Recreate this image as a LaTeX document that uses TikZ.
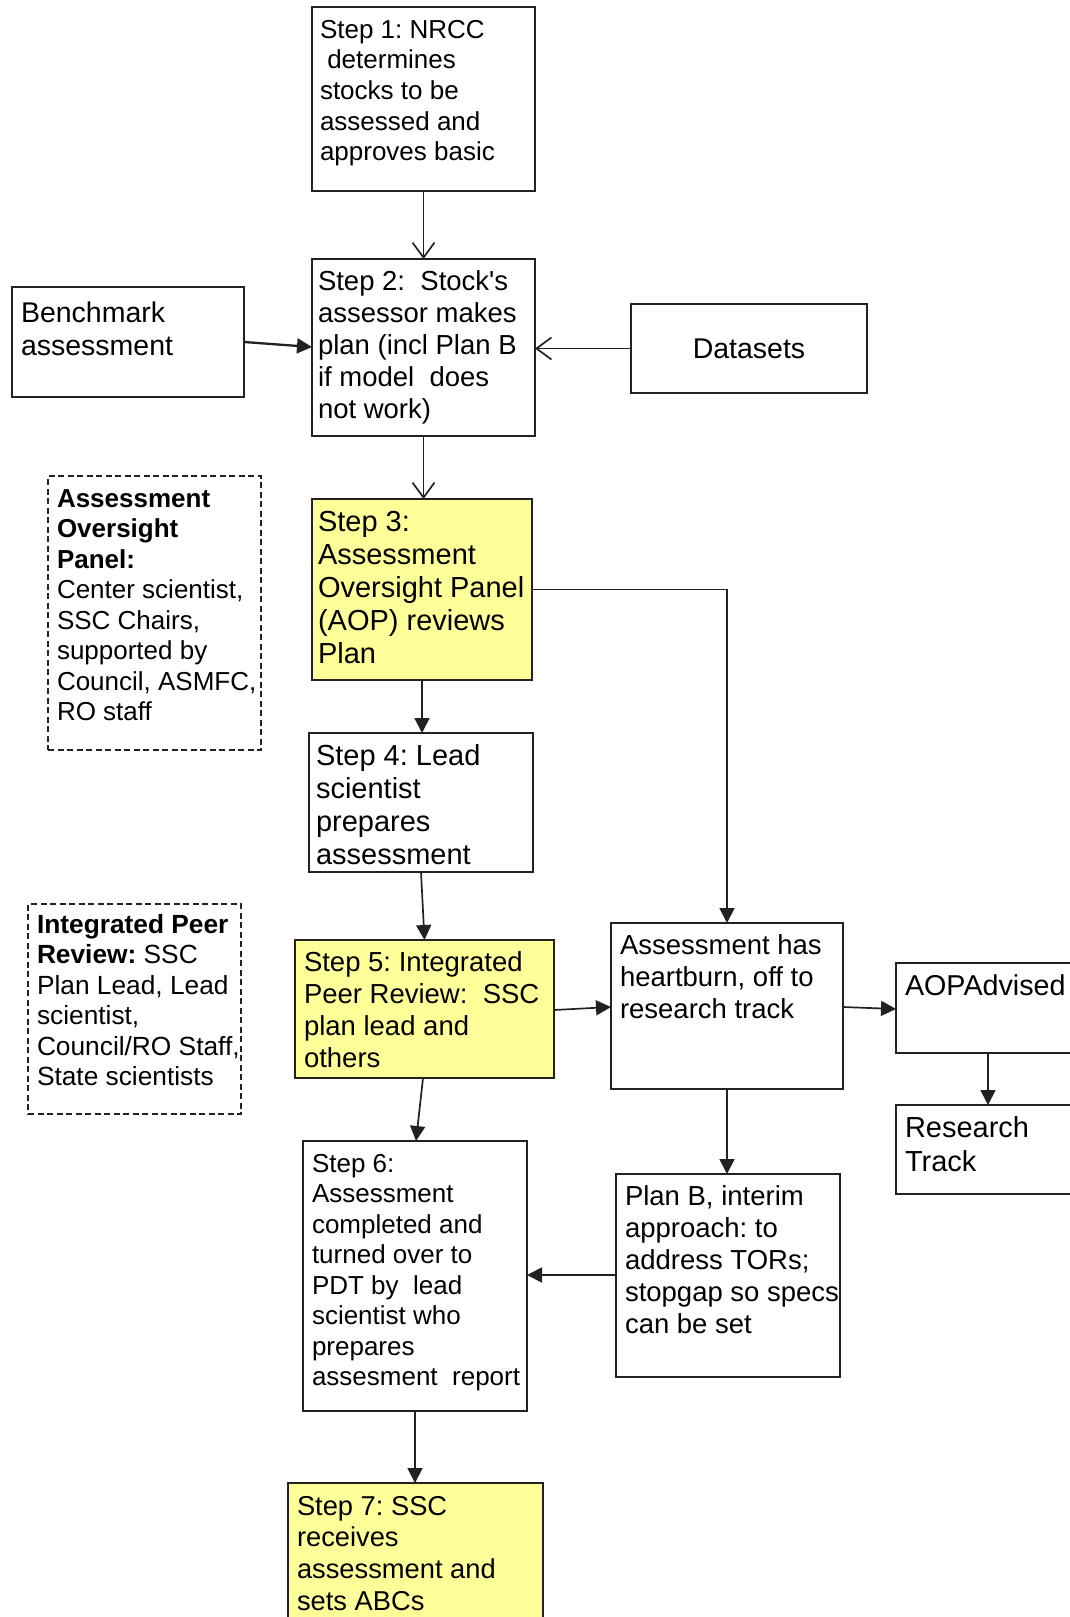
\documentclass[tikz,border=0pt]{standalone}
\usepackage{fontspec}
\setmainfont{Liberation Sans}
\usetikzlibrary{arrows.meta}
\definecolor{yel}{HTML}{FFFF99}
\definecolor{ink}{HTML}{222222}
\newcommand\bt[3]{\parbox[t]{420pt}{\frenchspacing\fontsize{#1}{#2}\selectfont\raggedright #3}}
\begin{document}
\begin{tikzpicture}[x=1pt,y=-1pt,
  box/.style={draw=ink, line width=1.8pt, rectangle, inner sep=0pt, outer sep=0pt, anchor=north west},
  ybox/.style={box, fill=yel},
  dbox/.style={box, line width=1.4pt, dash pattern=on 6pt off 3.5pt},
  txt/.style={inner sep=0pt, outer sep=0pt, anchor=base west, text=black},
  fa/.style={draw=ink, line width=1.7pt, -{Triangle[length=15pt,width=15pt]}},
  oa/.style={draw=ink, line width=1.7pt, -{Straight Barb[length=15pt,width=22pt]}}]
\clip (0,0) rectangle (1070,1617);
\useasboundingbox (0,0) rectangle (1070,1617);
\fill[white] (0,0) rectangle (1070,1617);

% boxes
\node[box, minimum width=223pt, minimum height=184pt] (s1) at (312,7) {};
\node[box, minimum width=223pt, minimum height=177pt] (s2) at (312,259) {};
\node[box, minimum width=232pt, minimum height=110pt] (bench) at (12,287) {};
\node[box, minimum width=236pt, minimum height=89pt] (data) at (631,304) {};
\node[ybox, minimum width=220pt, minimum height=181pt] (s3) at (312,499) {};
\node[dbox, minimum width=213pt, minimum height=274pt] (aop) at (48,476) {};
\node[box, minimum width=224pt, minimum height=139pt] (s4) at (309,733) {};
\node[dbox, minimum width=213pt, minimum height=210pt] (ipr) at (28,904) {};
\node[ybox, minimum width=259pt, minimum height=138pt] (s5) at (295,940) {};
\node[box, minimum width=232pt, minimum height=166pt] (heart) at (611,923) {};
\node[box, minimum width=200pt, minimum height=90pt] (adv) at (896,963) {};
\node[box, minimum width=200pt, minimum height=89pt] (res) at (896,1105) {};
\node[box, minimum width=224pt, minimum height=270pt] (s6) at (303,1141) {};
\node[box, minimum width=224pt, minimum height=203pt] (planb) at (616,1174) {};
\node[ybox, minimum width=255pt, minimum height=200pt] (s7) at (288,1483) {};

% texts
\node[txt] (s1t) at (320,38) {\bt{26}{30.7}{Step 1: NRCC\\\hspace*{0.28em}determines\\stocks to be\\assessed and\\approves basic}};
\node[txt] (s2t) at (318,290) {\bt{27.5}{32}{Step 2:\ \ Stock\textquotesingle s\\assessor makes\\plan (incl Plan B\\if model\ \ does\\not work)}};
\node[txt] (bencht) at (21,322) {\bt{28.5}{33.3}{Benchmark\\assessment}};
\node[inner sep=0pt, text=black, font=\fontsize{28.5}{33}\selectfont] (datat) at (data.center) {Datasets};
\node[txt] (s3t) at (318,531) {\bt{29}{33.1}{Step 3:\\Assessment\\Oversight Panel\\(AOP) reviews\\Plan}};
\node[txt] (aopt) at (57,507) {\bt{26}{30.5}{\textbf{Assessment\\Oversight\\Panel:}\\Center scientist,\\SSC Chairs,\\supported by\\Council, ASMFC,\\RO staff}};
\node[txt] (s4t) at (316,765) {\bt{29}{33.3}{Step 4: Lead\\scientist\\prepares\\assessment}};
\node[txt] (iprt) at (37,933) {\bt{26.3}{30.5}{\textbf{Integrated Peer\\Review:} SSC\\Plan Lead, Lead\\scientist,\\Council/RO Staff,\\State scientists}};
\node[txt] (s5t) at (304,971) {\bt{27.5}{32}{Step 5: Integrated\\Peer Review:\ \ SSC\\plan lead and\\others}};
\node[txt] (heartt) at (620,954) {\bt{27.5}{32}{Assessment has\\heartburn, off to\\research track}};
\node[txt] (advt) at (905,995) {\bt{28.7}{33}{AOPAdvised}};
\node[txt] (rest) at (905,1137) {\bt{29}{34}{Research\\Track}};
\node[txt] (s6t) at (312,1172) {\bt{26}{30.5}{Step 6:\\Assessment\\completed and\\turned over to\\PDT by\ \ lead\\scientist who\\prepares\\assesment\ \ report}};
\node[txt] (planbt) at (625,1205) {\bt{27.5}{32}{Plan B, interim\\approach: to\\address TORs;\\stopgap so specs\\can be set}};
\node[txt] (s7t) at (297,1515) {\bt{27.3}{31.7}{Step 7: SSC\\receives\\assessment and\\sets ABCs}};

% connectors
\coordinate (pbout) at ([shift={(0,101)}]planb.north west);
\draw[oa] (s1.south) -- (s2.north);
\draw[oa] (s2.south) -- (s2.south |- s3.north);
\draw[oa] (data.west) -- (s2.east |- data.west);
\draw[fa, line width=2.3pt] ([shift={(0,55)}]bench.north east) -- ([shift={(0,88)}]s2.north west);
\draw[fa] (s3.east) -| (heart.north);
\draw[fa] (s3.south) -- (s3.south |- s4.north);
\draw[fa] (s4.south) -- (s5.north);
\draw[fa] ([shift={(0,70)}]s5.north east) -- ([shift={(0,84)}]heart.north west);
\draw[fa] ([shift={(0,84)}]heart.north east) -- ([shift={(0,46)}]adv.north west);
\draw[fa] ([shift={(92,0)}]adv.south west) -- ([shift={(92,0)}]res.north west);
\draw[fa] (heart.south) -- (heart.south |- planb.north);
\draw[fa] (pbout) -- (s6.east |- pbout);
\draw[fa] ([shift={(128,0)}]s5.south west) -- ([shift={(113,0)}]s6.north west);
\draw[fa] (s6.south) -- (s6.south |- s7.north);
\end{tikzpicture}
\end{document}
